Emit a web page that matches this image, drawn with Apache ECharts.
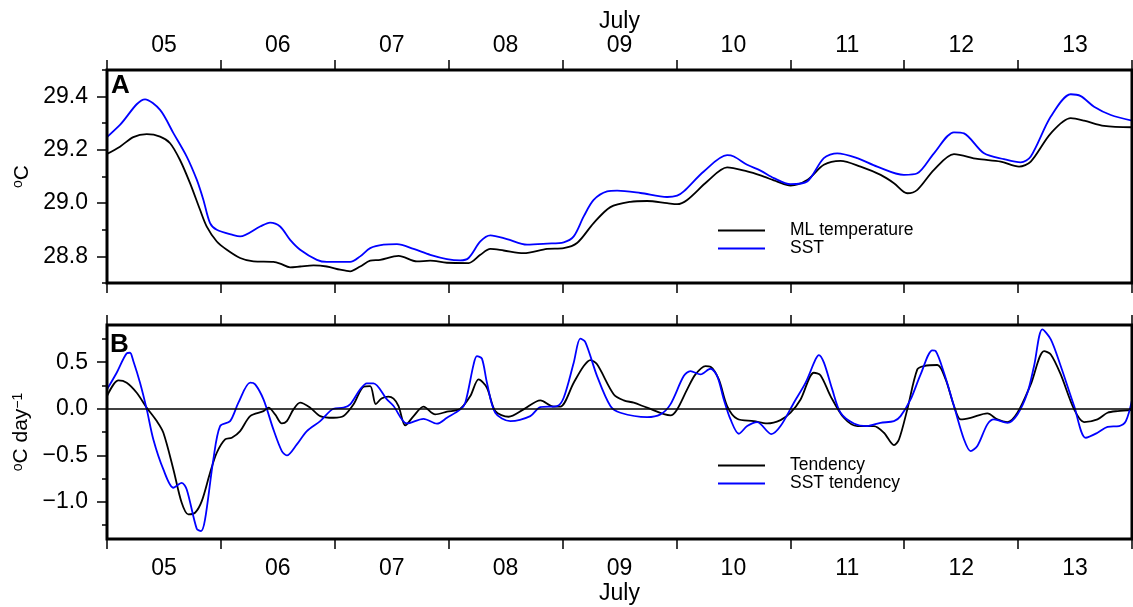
<!DOCTYPE html>
<html>
<head>
<meta charset="utf-8">
<script src="https://cdn.jsdelivr.net/npm/echarts@6/dist/echarts.min.js"></script>
<style>
html,body{margin:0;padding:0;background:#fff;}
#c{width:1133px;height:607px;}
</style>
</head>
<body>
<div id="c"></div>
<script>
// ---- tick labels ----
const dayLabels = ['05','06','07','08','09','10','11','12','13'];
const monthLabel = 'July';
const tempMajor = [28.8, 29.0, 29.2, 29.4];
const tempMinor = [28.7, 28.9, 29.1, 29.3, 29.5];
const tendMajor = [-1.0, -0.5, 0.0, 0.5];
const tendMinor = [-1.25, -0.75, -0.25, 0.25, 0.75];

// ---- panel A: ML temperature (days since 5 July 00:00) ----
const mlTempT = [0, 0.114, 0.231, 0.349, 0.466, 0.554, 0.641, 0.729, 0.817, 0.876, 0.964, 1.052, 1.169, 1.286, 1.461, 1.52, 1.608, 1.696, 1.813, 1.93, 2.047, 2.135, 2.223, 2.311, 2.399, 2.56, 2.721, 2.838, 2.985, 3.175, 3.278, 3.366, 3.483, 3.658, 3.864, 4.01, 4.127, 4.273, 4.42, 4.596, 4.742, 4.918, 5.006, 5.094, 5.27, 5.445, 5.621, 5.738, 5.885, 6.002, 6.148, 6.294, 6.441, 6.617, 6.793, 6.91, 7.027, 7.115, 7.261, 7.437, 7.642, 7.847, 8.008, 8.111, 8.287, 8.462, 8.579, 8.755, 9.0];
const mlTempV = [29.185, 29.212, 29.248, 29.259, 29.25, 29.225, 29.162, 29.075, 28.975, 28.912, 28.856, 28.825, 28.794, 28.781, 28.779, 28.773, 28.759, 28.762, 28.766, 28.762, 28.75, 28.744, 28.762, 28.784, 28.787, 28.802, 28.781, 28.784, 28.776, 28.775, 28.806, 28.828, 28.822, 28.812, 28.828, 28.831, 28.85, 28.925, 28.985, 29.005, 29.008, 29.0, 28.996, 29.012, 29.081, 29.134, 29.119, 29.104, 29.081, 29.066, 29.087, 29.144, 29.159, 29.137, 29.106, 29.075, 29.037, 29.05, 29.125, 29.184, 29.166, 29.156, 29.137, 29.156, 29.262, 29.319, 29.31, 29.29, 29.285];

// ---- panel A: SST ----
const sstT = [0, 0.114, 0.334, 0.466, 0.583, 0.7, 0.788, 0.846, 0.905, 0.964, 1.11, 1.169, 1.344, 1.432, 1.52, 1.608, 1.696, 1.843, 1.93, 2.135, 2.223, 2.311, 2.428, 2.546, 2.692, 2.838, 2.985, 3.102, 3.175, 3.278, 3.366, 3.512, 3.688, 3.864, 4.01, 4.098, 4.186, 4.273, 4.391, 4.479, 4.684, 4.918, 5.006, 5.064, 5.24, 5.445, 5.504, 5.621, 5.738, 5.855, 6.002, 6.148, 6.294, 6.412, 6.588, 6.763, 6.997, 7.115, 7.261, 7.437, 7.525, 7.701, 7.876, 8.023, 8.111, 8.287, 8.462, 8.55, 8.667, 8.814, 9.0];
const sstV = [29.248, 29.294, 29.39, 29.35, 29.263, 29.175, 29.088, 29.013, 28.925, 28.9, 28.88, 28.875, 28.912, 28.927, 28.912, 28.862, 28.825, 28.787, 28.779, 28.779, 28.8, 28.831, 28.844, 28.846, 28.828, 28.806, 28.79, 28.785, 28.794, 28.856, 28.879, 28.865, 28.844, 28.848, 28.853, 28.875, 28.95, 29.012, 29.044, 29.047, 29.038, 29.023, 29.028, 29.044, 29.119, 29.18, 29.175, 29.144, 29.122, 29.094, 29.071, 29.081, 29.169, 29.187, 29.169, 29.137, 29.106, 29.112, 29.187, 29.266, 29.262, 29.187, 29.165, 29.153, 29.175, 29.325, 29.409, 29.402, 29.362, 29.331, 29.31];

// ---- panel B: Tendency ----
const tendT = [0, 0.1, 0.173, 0.261, 0.349, 0.437, 0.495, 0.583, 0.656, 0.714, 0.773, 0.832, 0.905, 0.964, 1.037, 1.096, 1.169, 1.257, 1.374, 1.418, 1.476, 1.535, 1.579, 1.637, 1.696, 1.784, 1.872, 1.989, 2.077, 2.165, 2.253, 2.311, 2.36, 2.41, 2.47, 2.516, 2.56, 2.619, 2.692, 2.779, 2.882, 2.985, 3.102, 3.19, 3.263, 3.336, 3.409, 3.526, 3.658, 3.805, 3.922, 3.98, 4.098, 4.186, 4.244, 4.303, 4.45, 4.537, 4.625, 4.742, 4.947, 5.006, 5.094, 5.167, 5.255, 5.299, 5.372, 5.445, 5.533, 5.679, 5.797, 5.914, 6.002, 6.09, 6.207, 6.266, 6.353, 6.47, 6.588, 6.734, 6.822, 6.91, 6.954, 7.027, 7.115, 7.173, 7.291, 7.364, 7.437, 7.496, 7.583, 7.73, 7.818, 7.906, 7.994, 8.111, 8.228, 8.287, 8.374, 8.492, 8.579, 8.697, 8.785, 8.873, 9.0];
const tendV = [0.136, 0.305, 0.28, 0.172, 0.011, -0.133, -0.258, -0.652, -1.011, -1.136, -1.118, -0.993, -0.688, -0.473, -0.33, -0.312, -0.24, -0.079, -0.025, 0.011, -0.061, -0.158, -0.133, -0.007, 0.065, 0.011, -0.079, -0.097, -0.079, 0.047, 0.237, 0.244, 0.05, 0.11, 0.13, 0.108, 0.029, -0.179, -0.079, 0.022, -0.061, -0.032, 0, 0.136, 0.315, 0.226, -0.025, -0.086, -0.007, 0.09, 0.022, 0.022, 0.28, 0.459, 0.523, 0.477, 0.154, 0.09, 0.065, 0.011, -0.072, -0.007, 0.208, 0.369, 0.459, 0.452, 0.315, 0.029, -0.108, -0.133, -0.158, -0.122, -0.043, 0.1, 0.387, 0.358, 0.136, -0.097, -0.186, -0.186, -0.258, -0.391, -0.33, -0.007, 0.423, 0.459, 0.47, 0.315, 0.029, -0.115, -0.097, -0.05, -0.115, -0.143, -0.043, 0.262, 0.62, 0.584, 0.369, -0.007, -0.143, -0.115, -0.043, -0.025, -0.014];

// ---- panel B: SST tendency ----
const sstTendT = [0, 0.085, 0.173, 0.202, 0.231, 0.29, 0.349, 0.407, 0.495, 0.583, 0.656, 0.7, 0.788, 0.826, 0.861, 0.934, 0.993, 1.081, 1.154, 1.257, 1.301, 1.374, 1.461, 1.535, 1.579, 1.667, 1.755, 1.872, 1.989, 2.077, 2.135, 2.223, 2.282, 2.34, 2.458, 2.516, 2.633, 2.779, 2.897, 2.985, 3.102, 3.146, 3.219, 3.248, 3.292, 3.336, 3.409, 3.541, 3.717, 3.805, 3.951, 4.01, 4.098, 4.156, 4.2, 4.303, 4.42, 4.508, 4.742, 4.859, 4.947, 5.064, 5.123, 5.211, 5.299, 5.358, 5.416, 5.475, 5.548, 5.621, 5.709, 5.833, 5.914, 6.031, 6.134, 6.221, 6.251, 6.295, 6.368, 6.441, 6.558, 6.675, 6.792, 6.91, 6.968, 7.056, 7.144, 7.247, 7.276, 7.349, 7.437, 7.525, 7.583, 7.642, 7.73, 7.788, 7.906, 7.994, 8.082, 8.14, 8.213, 8.287, 8.374, 8.492, 8.594, 8.697, 8.785, 8.887, 8.946, 9.0];
const sstTendV = [0.208, 0.387, 0.595, 0.602, 0.513, 0.28, -0.007, -0.33, -0.652, -0.849, -0.796, -0.867, -1.29, -1.315, -1.19, -0.545, -0.186, -0.133, 0.065, 0.28, 0.262, 0.1, -0.222, -0.455, -0.502, -0.383, -0.24, -0.133, 0, 0.011, 0.047, 0.208, 0.272, 0.272, 0.1, 0.029, -0.158, -0.108, -0.161, -0.097, -0.007, 0.065, 0.477, 0.566, 0.538, 0.28, -0.043, -0.133, -0.079, 0.018, 0.029, 0.118, 0.495, 0.753, 0.717, 0.351, 0.029, -0.043, -0.09, -0.061, 0.047, 0.351, 0.405, 0.369, 0.43, 0.351, 0.1, -0.115, -0.269, -0.186, -0.143, -0.272, -0.186, 0.065, 0.28, 0.53, 0.577, 0.495, 0.208, -0.043, -0.158, -0.186, -0.151, -0.133, -0.079, 0.1, 0.369, 0.627, 0.62, 0.387, 0.029, -0.33, -0.455, -0.401, -0.168, -0.115, -0.151, -0.061, 0.172, 0.459, 0.853, 0.746, 0.459, 0.029, -0.312, -0.258, -0.194, -0.186, -0.133, 0.093];

const FONT = '"Liberation Sans", Arial, Helvetica, sans-serif';
const pairs = (ts, vs) => ts.map((t, i) => [t, vs[i]]);
const dayBounds = dayLabels.map((_, i) => i).concat([dayLabels.length]);
const dayCenters = dayLabels.map((_, i) => i + 0.5);
const nDays = dayLabels.length;

function xAx(grid, pos, withLabels, nameGap) {
  return {
    type: 'value', gridIndex: grid, position: pos, min: 0, max: nDays,
    axisLine: { show: false, onZero: false },
    axisTick: { show: true, customValues: dayBounds, inside: false, length: 10, lineStyle: { color: '#000', width: 1.5 } },
    axisLabel: { show: withLabels, customValues: dayCenters, formatter: v => dayLabels[Math.floor(v)],
      fontSize: 23, color: '#000', fontFamily: FONT, margin: pos === 'top' ? 12.5 : 18.5 },
    splitLine: { show: false },
    name: withLabels ? monthLabel : '', nameLocation: 'middle', nameGap: nameGap,
    nameTextStyle: { fontSize: 23, color: '#000', fontFamily: FONT }
  };
}
const supRich = { s: { fontSize: 14, fontFamily: FONT, color: '#000', verticalAlign: 'top' } };
function yMajor(grid, min, max, vals, name) {
  return {
    type: 'value', gridIndex: grid, position: 'left', min: min, max: max,
    axisLine: { show: false, onZero: false },
    axisTick: { show: true, customValues: vals, length: 10, lineStyle: { color: '#000', width: 1.5 } },
    axisLabel: { customValues: vals, formatter: v => (v < 0 ? '\u2212' : '') + Math.abs(v).toFixed(1),
      fontSize: 23, color: '#000', fontFamily: FONT, margin: 19 },
    splitLine: { show: false },
    name: name, nameLocation: 'middle', nameRotate: 90, nameGap: 71,
    nameTextStyle: { fontSize: 21, color: '#000', fontFamily: FONT, rich: supRich }
  };
}
function yMinor(grid, min, max, vals) {
  return {
    type: 'value', gridIndex: grid, position: 'left', min: min, max: max,
    axisLine: { show: false, onZero: false },
    axisTick: { show: true, customValues: vals, length: 5, lineStyle: { color: '#000', width: 1.5 } },
    axisLabel: { show: false }, splitLine: { show: false }
  };
}
function lineSeries(name, color, xi, yi, data, extra) {
  return Object.assign({
    type: 'line', name: name, xAxisIndex: xi, yAxisIndex: yi, data: data,
    symbol: 'none', showSymbol: false, smooth: 0.3, color: color,
    lineStyle: { color: color, width: 1.8 }, itemStyle: { color: color }, z: 3
  }, extra || {});
}
const legendBase = {
  orient: 'vertical', left: 718, itemWidth: 47, itemHeight: 2, icon: 'rect', itemGap: 0,
  selectedMode: false, padding: 0,
  textStyle: { fontSize: 17.5, fontFamily: FONT, color: '#000', lineHeight: 17, padding: [0, 0, 0, 20] }
};

const option = {
  animation: false,
  backgroundColor: '#fff',
  grid: [
    { left: 107, top: 70, width: 1025, height: 213, show: true, borderColor: '#000', borderWidth: 3, backgroundColor: 'transparent', z: 5 },
    { left: 107, top: 325, width: 1025, height: 214, show: true, borderColor: '#000', borderWidth: 3, backgroundColor: 'transparent', z: 5 }
  ],
  xAxis: [
    xAx(0, 'top', true, 37),
    xAx(0, 'bottom', false, 0),
    xAx(1, 'top', false, 0),
    xAx(1, 'bottom', true, 43)
  ],
  yAxis: [
    yMajor(0, 28.7, 29.5, tempMajor, '{s|o}C'),
    yMinor(0, 28.7, 29.5, tempMinor),
    yMajor(1, -1.4, 0.9, tendMajor, '{s|o}C day{s|\u22121}'),
    yMinor(1, -1.4, 0.9, tendMinor)
  ],
  legend: [
    Object.assign({}, legendBase, { top: 221.5, data: ['ML temperature', 'SST'] }),
    Object.assign({}, legendBase, { top: 456.5, data: ['Tendency', 'SST tendency'] })
  ],
  graphic: [
    { type: 'text', left: 111, top: 73, z: 10, style: { text: 'A', font: 'bold 26px ' + FONT, fill: '#000' } },
    { type: 'text', left: 110, top: 332, z: 10, style: { text: 'B', font: 'bold 26px ' + FONT, fill: '#000' } }
  ],
  series: [
    lineSeries('ML temperature', '#000000', 1, 0, pairs(mlTempT, mlTempV)),
    lineSeries('SST', '#0000ff', 1, 0, pairs(sstT, sstV)),
    lineSeries('Tendency', '#000000', 3, 2, pairs(tendT, tendV), {
      markLine: { silent: true, symbol: 'none', label: { show: false },
        lineStyle: { color: '#000', width: 1.5, type: 'solid' }, data: [{ yAxis: 0 }] }
    }),
    lineSeries('SST tendency', '#0000ff', 3, 2, pairs(sstTendT, sstTendV))
  ]
};
const chart = echarts.init(document.getElementById('c'), null, { renderer: 'canvas' });
chart.setOption(option);
</script>
</body>
</html>
